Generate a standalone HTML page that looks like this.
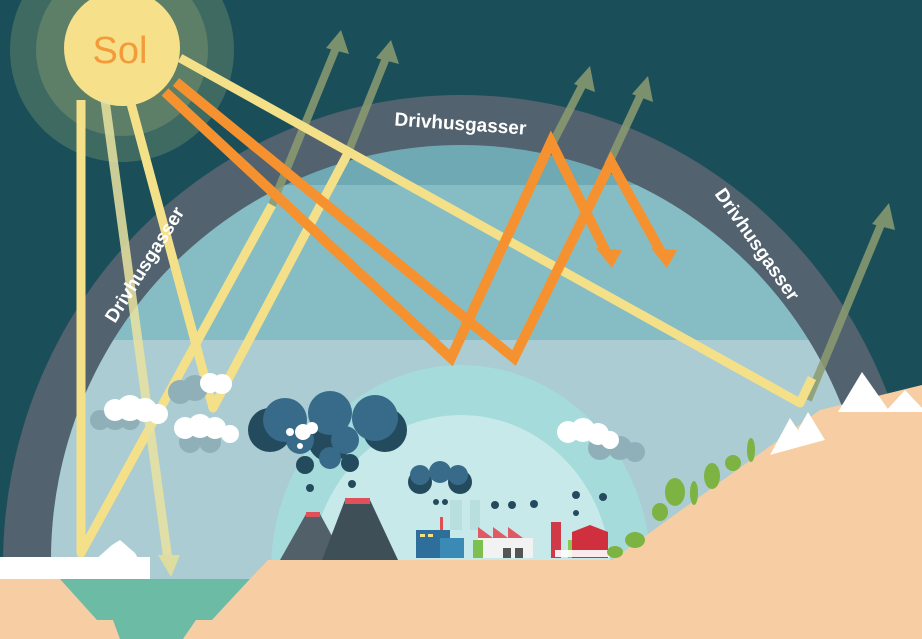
<!DOCTYPE html>
<html><head><meta charset="utf-8"><style>html,body{margin:0;padding:0;background:#1a4f5a;width:922px;height:639px;overflow:hidden}svg{display:block}</style></head>
<body>
<svg width="922" height="639" viewBox="0 0 922 639" xmlns="http://www.w3.org/2000/svg">
<defs>
<clipPath id="inner"><ellipse cx="461" cy="560" rx="410" ry="415"/></clipPath>
</defs>
<rect width="922" height="639" fill="#1a4f5a"/>
<!-- gas band -->
<ellipse cx="461" cy="565" rx="458" ry="470" fill="#52636f"/>
<g clip-path="url(#inner)">
<rect x="0" y="0" width="922" height="639" fill="#6fa9b4"/>
<rect x="0" y="185" width="922" height="160" fill="#86bdc5"/>
<rect x="0" y="340" width="922" height="300" fill="#aaccd2"/>
</g>
<ellipse cx="461" cy="570" rx="190" ry="205" fill="#a5dbdb"/>
<ellipse cx="461" cy="575" rx="150" ry="160" fill="#c8e9e9"/>
<!-- sun -->
<circle cx="122" cy="50" r="112" fill="#3e6a62"/>
<circle cx="122" cy="50" r="86" fill="#5d7f68"/>
<circle cx="122" cy="48" r="58" fill="#f7e08a"/>
<text x="120" y="63" text-anchor="middle" font-family="Liberation Sans, sans-serif" font-size="38" fill="#f39a3a">Sol</text>
<!-- outgoing faded arrows -->
<g stroke="#8d9c70" stroke-width="8" fill="#8d9c70" opacity="0.85">
<line x1="270" y1="210" x2="336" y2="48"/><path d="M326,48L341,30L349,54z" stroke="none"/>
<line x1="345" y1="160" x2="386" y2="58"/><path d="M376,58L391,40L399,64z" stroke="none"/>
<line x1="550" y1="148" x2="584" y2="82"/><path d="M574,84L590,66L595,92z" stroke="none"/>
<line x1="608" y1="165" x2="642" y2="92"/><path d="M632,94L648,76L653,102z" stroke="none"/>
<line x1="808" y1="400" x2="882" y2="222"/><path d="M872,224L889,203L895,230z" stroke="none"/>
</g>
<!-- yellow rays -->
<g stroke="#f5e08a" stroke-width="9" fill="none" stroke-linejoin="round">
<polyline points="81,100 81,553 272,205"/>
<polyline points="130,100 213,408 347,155"/>
<polyline points="180,58 800,403 812,378"/>
</g>
<line x1="105" y1="100" x2="168" y2="560" stroke="#e9e3a0" stroke-width="9" opacity="0.85"/>
<path d="M158,555L180,555L171,577z" fill="#dfdca0"/>
<!-- orange rays -->
<g stroke="#f5922f" stroke-width="10" fill="none" stroke-linejoin="miter">
<polyline points="165,92 451,358 551,142 606,252"/>
<polyline points="176,82 514,358 611,162 661,252"/>
</g>
<path d="M596,248L622,250L612,268z" fill="#f5922f"/><path d="M651,248L677,250L667,268z" fill="#f5922f"/>
<!-- labels -->
<g font-family="Liberation Sans, sans-serif" font-weight="bold" font-size="19" fill="#ffffff">
<text transform="translate(460,130) rotate(4)" text-anchor="middle">Drivhusgasser</text>
<text transform="translate(150,268) rotate(-58)" text-anchor="middle">Drivhusgasser</text>
<text transform="translate(752,248) rotate(55)" text-anchor="middle">Drivhusgasser</text>
</g>
<!-- clouds -->
<g fill="#8fb0b8">
<circle cx="100" cy="420" r="10"/><circle cx="115" cy="418" r="12"/><circle cx="130" cy="420" r="10"/>
<circle cx="180" cy="392" r="12"/><circle cx="195" cy="388" r="13"/>
<circle cx="190" cy="442" r="11"/><circle cx="210" cy="442" r="11"/>
<circle cx="600" cy="448" r="12"/><circle cx="620" cy="448" r="12"/><circle cx="635" cy="452" r="10"/>
</g>
<g fill="#ffffff">
<circle cx="115" cy="410" r="11"/><circle cx="130" cy="408" r="13"/><circle cx="145" cy="410" r="12"/><circle cx="158" cy="414" r="10"/>
<circle cx="185" cy="428" r="11"/><circle cx="200" cy="426" r="12"/><circle cx="215" cy="428" r="11"/><circle cx="230" cy="434" r="9"/>
<circle cx="210" cy="383" r="10"/><circle cx="222" cy="384" r="10"/>
<circle cx="568" cy="432" r="11"/><circle cx="583" cy="430" r="12"/><circle cx="598" cy="434" r="11"/><circle cx="610" cy="440" r="9"/>
</g>
<!-- dark clouds -->
<g fill="#244a5e">
<circle cx="270" cy="430" r="22"/><circle cx="385" cy="430" r="22"/><circle cx="330" cy="440" r="22"/>
<circle cx="305" cy="465" r="9"/><circle cx="350" cy="463" r="9"/>
<circle cx="310" cy="488" r="4"/><circle cx="352" cy="484" r="4"/>
<circle cx="420" cy="482" r="12"/><circle cx="460" cy="482" r="12"/>
<circle cx="436" cy="502" r="3"/><circle cx="445" cy="502" r="3"/>
<circle cx="576" cy="495" r="4"/><circle cx="603" cy="497" r="4"/><circle cx="576" cy="513" r="3"/>
<circle cx="495" cy="505" r="4"/><circle cx="512" cy="505" r="4"/><circle cx="534" cy="504" r="4"/>
</g>
<g fill="#386a8a">
<circle cx="285" cy="420" r="22"/><circle cx="330" cy="413" r="22"/><circle cx="375" cy="418" r="23"/>
<circle cx="300" cy="440" r="14"/><circle cx="345" cy="440" r="14"/><circle cx="330" cy="458" r="11"/>
<circle cx="420" cy="475" r="10"/><circle cx="440" cy="472" r="11"/><circle cx="458" cy="475" r="10"/>
</g>
<g fill="#ffffff"><circle cx="303" cy="432" r="8"/><circle cx="290" cy="432" r="4"/><circle cx="312" cy="428" r="6"/><circle cx="300" cy="446" r="3"/></g>
<!-- volcanoes -->
<polygon points="280,560 306,514 320,514 345,560" fill="#52606a"/>
<polygon points="322,560 345,500 370,500 398,560" fill="#3f4f57"/>
<rect x="306" y="512" width="14" height="5" fill="#e0505a"/><rect x="345" y="498" width="25" height="6" fill="#e0505a"/>
<!-- factories -->
<rect x="450" y="500" width="12" height="30" fill="#b8dede"/><rect x="470" y="500" width="10" height="30" fill="#b8dede"/>
<rect x="416" y="530" width="34" height="28" fill="#2e6e9a"/><rect x="440" y="538" width="24" height="20" fill="#3a8ab5"/>
<rect x="420" y="534" width="5" height="3" fill="#f5e08a"/><rect x="428" y="534" width="5" height="3" fill="#f5e08a"/>
<rect x="440" y="517" width="3" height="13" fill="#e05050"/>
<rect x="478" y="538" width="55" height="20" fill="#f2f2f2"/>
<polygon points="478,538 478,527 493,538 493,527 508,538 508,527 523,538" fill="#e05a64"/>
<rect x="473" y="540" width="10" height="18" fill="#7cc050"/>
<rect x="503" y="548" width="8" height="10" fill="#555"/><rect x="515" y="548" width="8" height="10" fill="#555"/>
<rect x="551" y="522" width="10" height="36" fill="#d03a48"/>
<rect x="568" y="540" width="15" height="18" fill="#8cc850"/>
<path d="M572,540L572,532L590,525L608,532L608,558L572,558z" fill="#d0303e"/>
<rect x="555" y="550" width="55" height="7" fill="#ffffff" opacity="0.9"/>
<!-- ground -->
<polygon points="0,579 60,579 97,620 113,620 120,639 0,639" fill="#f7cda4"/>
<polygon points="60,579 250,579 212,620 196,620 183,639 120,639 113,620 97,620" fill="#6bbba5"/>
<polygon points="250,579 268,560 612,560 820,410 922,385 922,639 183,639 196,620 212,620" fill="#f7cda4"/>
<polygon points="0,557 150,557 150,579 0,579" fill="#ffffff"/>
<polygon points="95,560 112,545 120,540 135,553 150,579 100,579" fill="#ffffff"/>
<!-- mountain snow -->
<polygon points="838,412 862,372 890,412" fill="#ffffff"/>
<polygon points="885,412 905,390 922,408 922,412" fill="#ffffff"/>
<polygon points="770,455 790,418 798,430 808,412 825,440" fill="#ffffff"/>
<polygon points="770,455 825,440 815,455" fill="#f7cda4"/>
<!-- trees -->
<g fill="#7cb342">
<ellipse cx="675" cy="492" rx="10" ry="14"/><ellipse cx="694" cy="493" rx="4" ry="12"/>
<ellipse cx="712" cy="476" rx="8" ry="13"/><ellipse cx="733" cy="463" rx="8" ry="8"/><ellipse cx="751" cy="450" rx="4" ry="12"/>
<ellipse cx="660" cy="512" rx="8" ry="9"/><ellipse cx="635" cy="540" rx="10" ry="8"/><ellipse cx="615" cy="552" rx="8" ry="6"/>
</g>
</svg>
</body></html>
